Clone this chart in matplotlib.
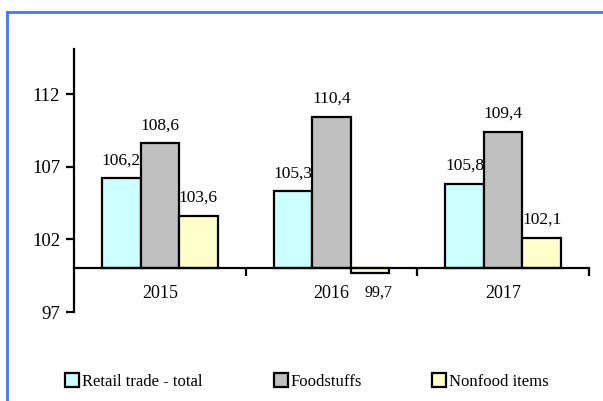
import matplotlib.pyplot as plt
import numpy as np
from matplotlib.lines import Line2D

# Данные диаграммы
years = ['2015', '2016', '2017']
retail_total = [106.2, 105.3, 105.8]
foodstuffs = [108.6, 110.4, 109.4]
nonfood = [103.6, 99.7, 102.1]
series_names = ['Retail trade - total', 'Foodstuffs', 'Nonfood items']
y_ticks = [97, 102, 107, 112]

plt.rcParams['font.family'] = ['Liberation Serif', 'DejaVu Serif']

fig = plt.figure(figsize=(6.03, 4.01), dpi=100)
ax = fig.add_axes([0.1227, 0.2219, 0.8541, 0.6559])

colors = ['#ccffff', '#c0c0c0', '#ffffcc']
base = 100
width = 0.224
x = np.arange(len(years))

for i, (vals, col, name) in enumerate(zip([retail_total, foodstuffs, nonfood], colors, series_names)):
    pos = x + (i - 1) * width
    heights = [v - base for v in vals]
    ax.bar(pos, heights, width, bottom=base, color=col, edgecolor='black',
           linewidth=1.6, label=name, zorder=2)
    # Подписи значений
    for p, v in zip(pos, vals):
        lbl = f'{v:.1f}'.replace('.', ',')
        if v >= base:
            ax.text(p, v + 0.7, lbl, ha='center', va='bottom', fontsize=12.5)
        else:
            ax.text(p + 0.05, v - 0.8, lbl, ha='center', va='top', fontsize=11.5)

ax.set_xlim(-0.5, 2.5)
ax.set_ylim(97, 115.1)

# Оси
ax.spines['top'].set_visible(False)
ax.spines['right'].set_visible(False)
ax.spines['bottom'].set_position(('data', base))
ax.spines['bottom'].set_zorder(3)
ax.spines['left'].set_bounds(97, 115.1)
for s in ['bottom', 'left']:
    ax.spines[s].set_linewidth(1.6)

ax.set_yticks(y_ticks)
ax.tick_params(axis='y', direction='out', length=6, width=1.6, labelsize=13.5, pad=4)
ax.set_xticks(x)
ax.set_xticklabels(years)
ax.set_xticks([0.5, 1.5, 2.5], minor=True)
ax.tick_params(axis='x', which='major', length=0, labelsize=13, pad=12)
ax.tick_params(axis='x', which='minor', direction='out', length=6, width=1.6)

# Легенда
handles = [Line2D([], [], marker='s', linestyle='none', markersize=10,
                  markerfacecolor=c, markeredgecolor='black', markeredgewidth=1.6)
           for c in colors]
leg_x = [73 / 603, 282 / 603, 440 / 603]
for h, name, lx in zip(handles, series_names, leg_x):
    fig.legend([h], [name], loc='center left', bbox_to_anchor=(lx - 0.012, 1 - 382 / 401),
               frameon=False, fontsize=12, handlelength=0.8, handletextpad=0.15,
               borderpad=0, borderaxespad=0)

# Синяя рамка сверху и слева
fig.add_artist(Line2D([7 / 603, 1], [1 - 11.5 / 401, 1 - 11.5 / 401],
                      transform=fig.transFigure, color='#4477ff', linewidth=2))
fig.add_artist(Line2D([7 / 603, 7 / 603], [0, 1 - 11.5 / 401],
                      transform=fig.transFigure, color='#4477ff', linewidth=2))

fig.savefig('out.png', dpi=100)
